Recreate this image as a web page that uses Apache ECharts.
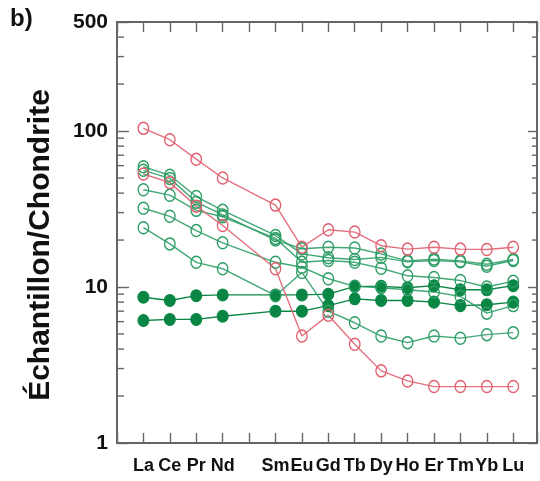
<!DOCTYPE html>
<html>
<head>
<meta charset="utf-8">
<script src="https://cdn.jsdelivr.net/npm/echarts@6/dist/echarts.min.js"></script>
<style>
html,body{margin:0;padding:0;background:#fff;}
#chart{width:540px;height:481px;}
</style>
</head>
<body>
<div id="chart"></div>
<script>
// Categories (index 4 = Pm, not labelled, no data)
const categories = ['La','Ce','Pr','Nd','','Sm','Eu','Gd','Tb','Dy','Ho','Er','Tm','Yb','Lu'];

// Red open-circle samples
const red1 = [104, 88, 66, 50, null, 33.5, 18, 23.3, 22.5, 18.4, 17.5, 18, 17.5, 17.4, 18];
const red2 = [53, 46.7, 33, 24.8, null, 13.1, 4.85, 6.6, 4.3, 2.9, 2.5, 2.3, 2.3, 2.3, 2.3];

// Green open-circle samples
const green1 = [59, 52, 38, 31, null, 21.4, 16.3, 15.4, 15, 15.5, 14.5, 14.8, 14.5, 13.6, 14.8];
const green2 = [56, 49.7, 35, 29, null, 20, 17.6, 18, 17.8, 16.3, 14.7, 15.1, 14.7, 14, 15];
const green3 = [42, 38.8, 31, 28.2, null, 20.5, 14.4, 14.8, 14.4, 13.2, 11.8, 11.5, 11, 10, 10.9];
const green4 = [32, 28.4, 23, 19.2, null, 14.4, 13.4, 11.3, 10.1, 9.9, 9.6, 9.3, 8.7, 6.8, 7.6];
const green5 = [24, 18.9, 14.4, 13.1, null, 8.8, 12.4, 7.0, 5.9, 4.85, 4.4, 4.85, 4.7, 4.95, 5.1];

// Filled dark-green samples
const filled1 = [8.6, 8.2, 8.8, 8.9, null, 8.9, 8.9, 9.0, 10.1, 10.1, 9.9, 10.2, 9.6, 9.6, 10.2];
const filled2 = [6.1, 6.2, 6.2, 6.5, null, 7.0, 7.0, 7.6, 8.4, 8.2, 8.2, 8.0, 7.6, 7.7, 8.0];

// Log-axis minor tick values
const minorTicks = [2,3,4,5,6,7,8,9,20,30,40,50,60,70,80,90,200,300,400];

const RED = '#e0606f';
const GREEN = '#2e9e66';
const DARK = '#0a8644';
const SANS = "'Liberation Sans',Arial,sans-serif";

function toPairs(arr){ return arr.map((v,i)=> v==null ? null : [i, v]).filter(p=>p); }

function openSeries(arr, color){
  return {
    type:'line', data: toPairs(arr), symbol:'circle', symbolSize:[10.5,12],
    lineStyle:{color:color, width:1.4, opacity:0.9},
    itemStyle:{color:'rgba(255,255,255,0)', borderColor:color, borderWidth:1.4},
    emphasis:{disabled:true}, z:2
  };
}
function filledSeries(arr){
  return {
    type:'line', data: toPairs(arr), symbol:'circle', symbolSize:[11,12],
    lineStyle:{color:DARK, width:1.4},
    itemStyle:{color:DARK, borderColor:DARK, borderWidth:1},
    emphasis:{disabled:true}, z:2
  };
}

const axisLineStyle = {color:'#333', width:1.5};
const tickStyle = {color:'#666', width:1.4};

const chart = echarts.init(document.getElementById('chart'), null, {renderer:'canvas'});
chart.setOption({
  animation:false,
  backgroundColor:'#fff',
  grid:{left:117, top:22, width:420.2, height:421, containLabel:false},
  xAxis:[
    {type:'value', min:-1, max:14.9, interval:1, position:'bottom',
     axisLine:{show:true, onZero:false, lineStyle:axisLineStyle},
     axisTick:{show:true, inside:true, length:10, lineStyle:tickStyle},
     axisLabel:{margin:14, fontSize:18, fontWeight:'bold', fontFamily:SANS, color:'#111',
       formatter:(v)=>{ const r=Math.round(v); return (Math.abs(v-r)<1e-6 && r>=0 && r<categories.length) ? categories[r] : ''; }},
     splitLine:{show:false}},
    {type:'value', min:-1, max:14.9, interval:1, position:'top',
     axisLine:{show:true, onZero:false, lineStyle:axisLineStyle},
     axisTick:{show:true, inside:true, length:10, lineStyle:tickStyle},
     axisLabel:{show:false}, splitLine:{show:false}}
  ],
  yAxis:[
    {type:'log', logBase:10, min:1, max:500, position:'left',
     axisLine:{show:true, onZero:false, lineStyle:axisLineStyle},
     axisTick:{show:true, inside:true, length:12, lineStyle:tickStyle},
     axisLabel:{margin:9, fontSize:21, fontWeight:'bold', fontFamily:SANS, color:'#111',
       formatter:(v)=>String(Math.round(v))},
     splitLine:{show:false}},
    {type:'log', logBase:10, min:1, max:500, position:'right',
     axisLine:{show:true, onZero:false, lineStyle:axisLineStyle},
     axisTick:{show:true, inside:true, length:9, lineStyle:tickStyle},
     axisLabel:{show:false}, splitLine:{show:false}}
  ],
  graphic:[
    {type:'text', x:10, y:7, style:{text:'b)', font:"bold 24px "+SANS, fill:'#111', textVerticalAlign:'top'}},
    {type:'text', x:41, y:245, rotation:Math.PI/2,
     style:{text:'Échantillon/Chondrite', font:"bold 30px "+SANS, fill:'#111', textAlign:'center', textVerticalAlign:'middle'}}
  ],
  series:[
    {type:'custom', xAxisIndex:0, yAxisIndex:0, silent:true, clip:false, z:3,
     data: minorTicks.map(v=>[0,v]),
     renderItem:(params, api)=>{
       const y = api.coord([0, api.value(1)])[1];
       const cs = params.coordSys;
       return {type:'group', children:[
         {type:'line', shape:{x1:cs.x, y1:y, x2:cs.x+7, y2:y}, style:{stroke:'#666', lineWidth:1.4}},
         {type:'line', shape:{x1:cs.x+cs.width-5, y1:y, x2:cs.x+cs.width, y2:y}, style:{stroke:'#666', lineWidth:1.4}}
       ]};
     }},
    filledSeries(filled1),
    filledSeries(filled2),
    openSeries(green5, GREEN),
    openSeries(green4, GREEN),
    openSeries(green3, GREEN),
    openSeries(green2, GREEN),
    openSeries(green1, GREEN),
    openSeries(red2, RED),
    openSeries(red1, RED)
  ]
});
</script>
</body>
</html>
